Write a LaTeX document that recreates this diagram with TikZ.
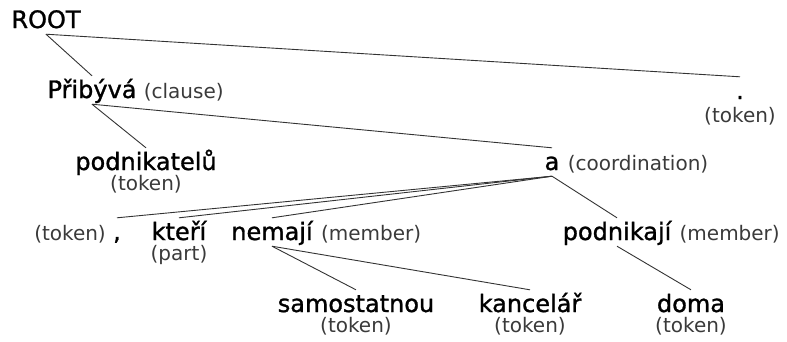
\documentclass[tikz,border=0pt]{standalone}
\usepackage{fontspec}
\setmainfont{DejaVu Sans}
\newfontfamily\slovofont[FakeBold=1.2]{DejaVu Sans}
\usetikzlibrary{positioning}
\definecolor{hrana}{HTML}{333333}
\definecolor{popis}{HTML}{3a3a3a}
\tikzset{
  slovo/.style={anchor=base, inner xsep=0pt, inner ysep=3pt,
    text height=19pt, text depth=3pt, font=\slovofont\fontsize{24}{26}\selectfont},
  typ/.style={inner xsep=0pt, inner ysep=0pt, text height=13pt,
    text depth=3pt, text=popis, font=\fontsize{20}{22}\selectfont},
  hrana/.style={draw=hrana, line width=0.9pt}
}
\begin{document}
\begin{tikzpicture}[x=1pt, y=-1pt]
  % okraje obrazku
  \useasboundingbox (0,0) rectangle (787,341);
  % koren a veta
  \node[slovo] (root) at (46,28) {ROOT};
  \node[slovo] (pribyva) at (92,98) {Přibývá};
  \node[typ, base right=7pt of pribyva] (pribyva-t) {(clause)};
  \node[slovo] (tecka) at (740,99) {.};
  \node[typ, below=4pt of tecka] (tecka-t) {(token)};
  % druha uroven
  \node[slovo] (podnikatelu) at (146,170) {podnikatelů};
  \node[typ, below=1pt of podnikatelu] (podnikatelu-t) {(token)};
  \node[slovo] (a) at (552,170) {a};
  \node[typ, base right=8pt of a] (a-t) {(coordination)};
  % treti uroven
  \node[slovo] (carka) at (117,240) {,};
  \node[typ, base left=7pt of carka] (carka-t) {(token)};
  \node[slovo] (kteri) at (179,240) {kteří};
  \node[typ, below=1pt of kteri] (kteri-t) {(part)};
  \node[slovo] (nemaji) at (272,240) {nemají};
  \node[typ, base right=8pt of nemaji] (nemaji-t) {(member)};
  \node[slovo] (podnikaji) at (617,240) {podnikají};
  \node[typ, base right=8pt of podnikaji] (podnikaji-t) {(member)};
  % ctvrta uroven
  \node[slovo] (samostatnou) at (356,312) {samostatnou};
  \node[typ, below=1pt of samostatnou] (samostatnou-t) {(token)};
  \node[slovo] (kancelar) at (530,312) {kancelář};
  \node[typ, below=1pt of kancelar] (kancelar-t) {(token)};
  \node[slovo] (doma) at (691,312) {doma};
  \node[typ, below=1pt of doma] (doma-t) {(token)};
  % hrany
  \draw[hrana] (root.south) -- (pribyva.north);
  \draw[hrana] (root.south) -- (tecka.north);
  \draw[hrana] (pribyva.south) -- (podnikatelu.north);
  \draw[hrana] (pribyva.south) -- (a.north);
  \foreach \k in {carka, kteri, nemaji, podnikaji}
    \draw[hrana] (a.south) -- (\k.north);
  \draw[hrana] (nemaji.south) -- (samostatnou.north);
  \draw[hrana] (nemaji.south) -- (kancelar.north);
  \draw[hrana] (podnikaji.south) -- (doma.north);
\end{tikzpicture}
\end{document}
